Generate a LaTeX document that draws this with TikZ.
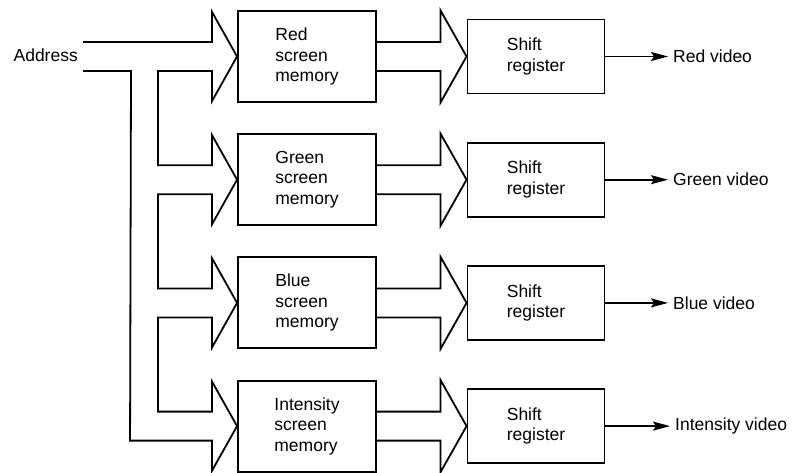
\documentclass[tikz,border=0pt]{standalone}
\usepackage{fontspec}
\setmainfont{Liberation Sans}
\usetikzlibrary{calc,arrows.meta}
\begin{document}
\begin{tikzpicture}[x=1pt,y=-1pt,
  every node/.style={font=\fontsize{17.5}{20.5}\selectfont},
  membox/.style={draw,line width=1.9pt,minimum width=138pt,minimum height=91pt,align=left,inner sep=0pt},
  shbox/.style={draw,line width=1.9pt,minimum width=137pt,minimum height=74pt,align=left,inner sep=0pt},
  bus/.style={line width=1.8pt,line join=miter},
  outarrow/.style={line width=1.9pt,-{Stealth[length=17pt,width=9pt,inset=3pt]},shorten >=5pt},
  lbl/.style={anchor=west,inner sep=0pt}]
\useasboundingbox (0,0) rectangle (800,473);
% memory boxes
\node[membox] (m0) at (307,56.5) {Red\\screen\\memory};
\node[membox] (m1) at (307,179.7) {Green\\screen\\memory};
\node[membox] (m2) at (307,302.9) {Blue\\screen\\memory};
\node[membox] (m3) at (307,426.1) {Intensity\\screen\\memory};
% shift registers
\node[shbox] (s0) at (536,56.5) {Shift\\register};
\node[shbox] (s1) at (536,179.7) {Shift\\register};
\node[shbox] (s2) at (536,302.9) {Shift\\register};
\node[shbox] (s3) at (536,426.1) {Shift\\register};
% labels
\node[lbl] (v0) at (673,56.5) {Red video};
\node[lbl] (v1) at (673,179.7) {Green video};
\node[lbl] (v2) at (673,302.9) {Blue video};
\node[lbl] (v3) at (675,426.1) {Intensity video};
\coordinate (ain) at (83,56.5);
\node[anchor=east,inner sep=0pt] (addr) at ($(ain)+(-5,-1)$) {Address};
% address bus
\draw[bus] ($(ain)+(0,-14.5)$) -- ($(m0.west)+(-25,-14.5)$) -- ($(m0.west)+(-25,-44.5)$) -- (m0.west)
  -- ($(m0.west)+(-25,44.5)$) -- ($(m0.west)+(-25,14.5)$) -- ($(m0.west)+(-79,14.5)$)
  -- ($(m1.west)+(-79,-14.5)$) -- ($(m1.west)+(-25,-14.5)$) -- ($(m1.west)+(-25,-44.5)$) -- (m1.west)
  -- ($(m1.west)+(-25,44.5)$) -- ($(m1.west)+(-25,14.5)$) -- ($(m1.west)+(-79,14.5)$)
  -- ($(m2.west)+(-79,-14.5)$) -- ($(m2.west)+(-25,-14.5)$) -- ($(m2.west)+(-25,-44.5)$) -- (m2.west)
  -- ($(m2.west)+(-25,44.5)$) -- ($(m2.west)+(-25,14.5)$) -- ($(m2.west)+(-79,14.5)$)
  -- ($(m3.west)+(-79,-14.5)$) -- ($(m3.west)+(-25,-14.5)$) -- ($(m3.west)+(-25,-44.5)$) -- (m3.west)
  -- ($(m3.west)+(-25,44.5)$) -- ($(m3.west)+(-25,14.5)$) -- ($(m3.west)+(-107,14.5)$)
  -- ($(ain)+(48,14.5)$) -- ($(ain)+(0,14.5)$);
% data buses memory -> shift register
\foreach \i in {0,1,2,3}{
  \draw[bus] ($(m\i.east)+(0,-14.5)$) -- ($(s\i.west)+(-26,-14.5)$) -- ($(s\i.west)+(-26,-46)$) -- (s\i.west)
    -- ($(s\i.west)+(-26,46)$) -- ($(s\i.west)+(-26,14.5)$) -- ($(m\i.east)+(0,14.5)$);
  \draw[outarrow] (s\i.east) -- (v\i.west);
}
\end{tikzpicture}
\end{document}
